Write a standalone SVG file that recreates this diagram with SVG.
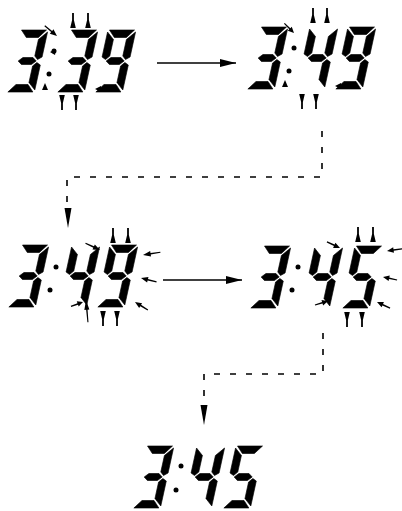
<svg xmlns="http://www.w3.org/2000/svg" xmlns:xlink="http://www.w3.org/1999/xlink" width="402" height="511" viewBox="0 0 402 511">
  <style>
    .seg { fill: #000; stroke: #000; stroke-width: 0.6; stroke-linejoin: round; }
    .ink { fill: #000; }
    .wire { fill: none; stroke: #000; stroke-width: 1.5; }
    .dash { fill: none; stroke: #000; stroke-width: 1.6; stroke-dasharray: 6 10; }
  </style>
  <defs>
    <!-- seven-segment pieces, upright; digits are slanted with skewX where placed -->
    <path id="sa" d="M1.5,0 H26.5 L20,7.5 H8 Z"/>
    <path id="sf" d="M0,2 L7.5,9.5 V26 L4,29.5 L0,27 Z"/>
    <path id="sb" d="M28,2 V27 L24,29.5 L20.5,26 V9.5 Z"/>
    <path id="sg" d="M5,31 L9,27.5 H19 L23,31 L19,34.5 H9 Z"/>
    <path id="se" d="M0,35 L4,32.5 L7.5,36 V52.5 L0,60 Z"/>
    <path id="sc" d="M28,35 V60 L20.5,52.5 V36 L24,32.5 Z"/>
    <path id="sd" d="M1.5,62 H26.5 L20,54.5 H8 Z"/>

    <g id="d3" class="seg"><use xlink:href="#sa"/><use xlink:href="#sb"/><use xlink:href="#sg"/><use xlink:href="#sc"/><use xlink:href="#sd"/></g>
    <g id="d4" class="seg"><use xlink:href="#sf"/><use xlink:href="#sb"/><use xlink:href="#sg"/><use xlink:href="#sc"/></g>
    <g id="d5" class="seg"><use xlink:href="#sa"/><use xlink:href="#sf"/><use xlink:href="#sg"/><use xlink:href="#sc"/><use xlink:href="#sd"/></g>
    <g id="d9" class="seg"><use xlink:href="#sa"/><use xlink:href="#sf"/><use xlink:href="#sb"/><use xlink:href="#sg"/><use xlink:href="#sc"/><use xlink:href="#sd"/></g>

    <!-- change pins above / below a digit -->
    <path id="pinTop" class="ink" d="M-0.9,0 H0.9 V7 L2.8,15 H-2.8 L-0.9,7 Z"/>
    <path id="pinBot" class="ink" d="M-2.8,0 H2.8 L0.9,8 V15 H-0.9 V8 Z"/>
    <!-- blink ray, tip at origin, pointing outward along +x -->
    <path id="ray" class="ink" d="M0,0 L7,-2.8 L7,-0.8 L16,-0.6 L16,0.6 L7,0.8 L7,2.8 Z"/>

    <marker id="head" viewBox="0 0 16 8" refX="16" refY="4" markerWidth="16" markerHeight="8" markerUnits="userSpaceOnUse" orient="auto">
      <path d="M0,0 L16,4 L0,8 Z" fill="#000"/>
    </marker>
  </defs>

  <rect width="402" height="511" fill="#fff"/>

  <!-- 3:39 -->
  <g id="display-339">
    <use xlink:href="#d3" transform="translate(20,30) skewX(-12.4)"/>
    <circle class="ink" cx="54" cy="51" r="2.5"/>
    <circle class="ink" cx="49" cy="74" r="2.5"/>
    <use xlink:href="#d3" transform="translate(70,30) skewX(-12.4)"/>
    <use xlink:href="#d9" transform="translate(108,30) skewX(-12.4)"/>
    <use xlink:href="#pinTop" x="73" y="13"/>
    <use xlink:href="#pinTop" x="88" y="13"/>
    <use xlink:href="#pinBot" x="62" y="95"/>
    <use xlink:href="#pinBot" x="76" y="95"/>
    <use xlink:href="#ray" transform="translate(57,36) rotate(220)"/>
    <path class="ink" d="M50,52 L56,49 L55,55 Z"/>
    <path class="ink" d="M42,90 L45,83 L48,90 Z"/>
    <path class="ink" d="M95,89 L101,86 L101,92 Z"/>
  </g>

  <!-- 3:49 -->
  <g id="display-349a">
    <use xlink:href="#d3" transform="translate(260,27) skewX(-12.4)"/>
    <circle class="ink" cx="294" cy="48" r="2.5"/>
    <circle class="ink" cx="289" cy="71" r="2.5"/>
    <use xlink:href="#d4" transform="translate(310,27) skewX(-12.4)"/>
    <use xlink:href="#d9" transform="translate(348,27) skewX(-12.4)"/>
    <use xlink:href="#pinTop" x="313" y="8"/>
    <use xlink:href="#pinTop" x="327" y="8"/>
    <use xlink:href="#pinBot" x="302" y="94"/>
    <use xlink:href="#pinBot" x="316" y="94"/>
    <use xlink:href="#ray" transform="translate(294,33) rotate(225) scale(0.85,1)"/>
    <path class="ink" d="M282,87 L285,80 L288,87 Z"/>
    <path class="ink" d="M335,86 L341,83 L341,89 Z"/>
  </g>

  <!-- 3:49 with blinking segments -->
  <g id="display-349b">
    <use xlink:href="#d3" transform="translate(21,245) skewX(-12.4)"/>
    <circle class="ink" cx="56" cy="267" r="2.5"/>
    <circle class="ink" cx="50" cy="290" r="2.5"/>
    <use xlink:href="#d4" transform="translate(72,245) skewX(-12.4)"/>
    <use xlink:href="#d9" transform="translate(110,245) skewX(-12.4)"/>
    <use xlink:href="#pinTop" x="113" y="228"/>
    <use xlink:href="#pinTop" x="128" y="228"/>
    <use xlink:href="#pinBot" x="103" y="311"/>
    <use xlink:href="#pinBot" x="117" y="311"/>
    <use xlink:href="#ray" transform="translate(100,250) rotate(205)"/>
    <use xlink:href="#ray" transform="translate(83,302) rotate(160) scale(0.8,1)"/>
    <use xlink:href="#ray" transform="translate(86,300) rotate(85) scale(1.4,0.9)"/>
    <use xlink:href="#ray" transform="translate(143,255) rotate(-9) scale(1.1,1)"/>
    <use xlink:href="#ray" transform="translate(141,278) rotate(14)"/>
    <use xlink:href="#ray" transform="translate(135,302) rotate(32) scale(0.95,1)"/>
  </g>

  <!-- 3:45 with blinking segments -->
  <g id="display-345a">
    <use xlink:href="#d3" transform="translate(263,246) skewX(-12.4)"/>
    <circle class="ink" cx="298" cy="267" r="2.5"/>
    <circle class="ink" cx="292" cy="290" r="2.5"/>
    <use xlink:href="#d4" transform="translate(315,246) skewX(-12.4)"/>
    <use xlink:href="#d5" transform="translate(355,246) skewX(-12.4)"/>
    <use xlink:href="#pinTop" x="358" y="227"/>
    <use xlink:href="#pinTop" x="373" y="227"/>
    <use xlink:href="#pinBot" x="347" y="312"/>
    <use xlink:href="#pinBot" x="362" y="312"/>
    <use xlink:href="#ray" transform="translate(340,248) rotate(205) scale(0.9,1)"/>
    <use xlink:href="#ray" transform="translate(328,301) rotate(163) scale(0.85,1)"/>
    <use xlink:href="#ray" transform="translate(387,251) rotate(-8) scale(0.95,1)"/>
    <use xlink:href="#ray" transform="translate(383,277) rotate(12) scale(0.9,1)"/>
    <use xlink:href="#ray" transform="translate(377,302) rotate(25) scale(0.9,1)"/>
  </g>

  <!-- 3:45 final -->
  <g id="display-345b">
    <use xlink:href="#d3" transform="translate(146,446) skewX(-12.4)"/>
    <circle class="ink" cx="181" cy="466" r="2.5"/>
    <circle class="ink" cx="176" cy="490" r="2.5"/>
    <use xlink:href="#d4" transform="translate(197,446) skewX(-12.4)"/>
    <use xlink:href="#d5" transform="translate(236,446) skewX(-12.4)"/>
  </g>

  <g id="connectors">
    <line class="wire" x1="157" y1="63" x2="236" y2="63" marker-end="url(#head)"/>
    <line class="wire" x1="163" y1="280" x2="242" y2="280" marker-end="url(#head)"/>
    <path class="dash" d="M322,131 V177 H67 V208"/>
    <path d="M64.5,208 L71.5,208 L68,228 Z" class="ink"/>
    <path class="dash" d="M323,333 V374 H204 V405"/>
    <path d="M200.5,405 L207.5,405 L204,425 Z" class="ink"/>
  </g>
</svg>
